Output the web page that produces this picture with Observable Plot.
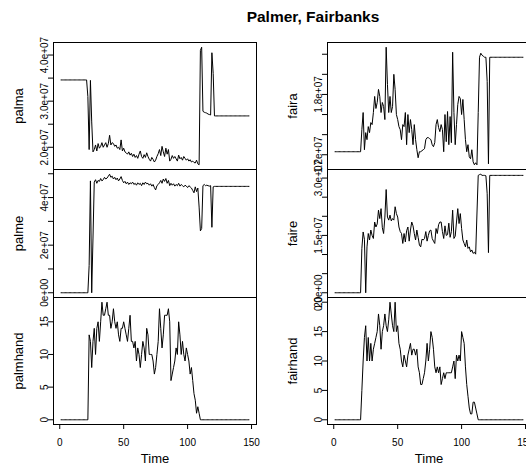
<!DOCTYPE html>
<html>
<head>
<meta charset="utf-8">
<script src="https://cdn.jsdelivr.net/npm/d3@7"></script>
<script src="https://cdn.jsdelivr.net/npm/@observablehq/plot@0.6"></script>
<style>
  html, body { margin: 0; padding: 0; background: #fff; }
  #chart { position: relative; width: 526px; height: 465px; overflow: hidden; background: #fff;
           font-family: "Liberation Sans", Arial, sans-serif; }
  #chart svg { position: absolute; }
  #title { position: absolute; top: 8px; left: 313px; transform: translateX(-50%); white-space: nowrap;
           font-weight: bold; font-size: 15.5px; line-height: 18px; color: #000; }
  g[aria-label="y-axis label"] text, g[aria-label="x-axis label"] text { font-size: 13px; }
</style>
</head>
<body>
<div id="chart"><div id="title">Palmer, Fairbanks</div></div>
<script>
// ---- data (money series in units of 1e7) ----
const title = "Palmer, Fairbanks";
const seriesNames = ["palma", "palme", "palmhand", "faira", "faire", "fairhand"];
const timeStart = 1;
const unitE7 = 1e7;

const palma = [
3.46,3.46,3.46,3.46,3.46,3.46,3.46,3.46,3.46,3.46,3.46,3.46,3.46,3.46,3.46,3.46,3.46,3.46,3.46,3.46,3.46,
3.1,1.95,3.45,2.55,1.9,
1.95,2.05,1.92,2.08,1.98,2.02,2.1,2.0,2.05,2.1,2.0,2.08,
2.26,
2.05,2.1,2.08,2.02,2.05,1.98,2.0,1.95,
2.16,
1.92,1.98,1.9,1.88,1.85,1.9,1.83,1.87,1.8,1.85,1.78,1.82,1.76,1.85,
1.92,1.8,1.76,1.84,1.78,1.88,1.8,1.74,1.7,1.78,1.74,1.68,1.72,1.8,1.86,1.95,1.82,
2.02,1.9,1.8,1.98,1.85,1.95,1.7,1.74,1.82,1.76,1.8,1.75,1.7,
1.83,1.75,1.78,1.72,1.8,1.76,1.72,1.75,1.7,1.73,1.68,1.7,1.67,1.66,1.72,1.64,1.62,
4.1,4.17,2.78,2.76,2.75,2.74,2.72,2.71,2.7,4.05,3.6,2.68,
2.68,2.68,2.68,2.68,2.68,2.68,2.68,2.68,2.68,2.68,2.68,2.68,2.68,2.68,2.68,2.68,2.68,2.68,2.68,2.68,2.68,2.68,2.68,2.68,2.68,2.68,2.68
];

const palme = [
0,0,0,0,0,0,0,0,0,0,0,0,0,0,0,0,0,0,0,0,0,0,
1.15,4.7,0,2.3,
4.65,4.75,4.6,4.72,4.68,4.8,4.7,4.75,4.85,4.78,4.82,4.9,
4.98,
4.85,4.9,4.78,4.85,4.75,4.82,4.7,4.78,4.88,4.72,
4.62,4.68,4.58,4.65,4.55,4.62,4.58,4.65,4.55,4.6,4.52,4.62,4.55,4.6,4.5,4.62,4.55,4.65,4.58,4.6,4.52,4.58,4.48,4.55,4.42,
4.32,4.5,4.55,4.62,4.72,4.6,4.78,4.68,4.8,4.6,4.72,4.5,4.6,4.52,4.58,4.48,4.55,4.5,4.6,4.48,4.55,4.5,4.45,4.52,4.48,4.42,4.5,4.45,4.4,4.3,4.2,4.45,4.25,4.4,
3.6,2.6,2.7,4.5,4.55,4.5,4.52,4.5,4.48,4.5,2.75,4.45,
4.47,4.47,4.47,4.47,4.47,4.47,4.47,4.47,4.47,4.47,4.47,4.47,4.47,4.47,4.47,4.47,4.47,4.47,4.47,4.47,4.47,4.47,4.47,4.47,4.47,4.47,4.47,4.47
];

const palmhand = [
0,0,0,0,0,0,0,0,0,0,0,0,0,0,0,0,0,0,0,0,0,0,
13,12,8,12,14,10,14,15,12,15,18,16,16,17,18,16,16,14,
15,17,15,14,15,13,12,14,14,15,14,13,12,14,16,12,12,11,12,9,
11,10,8,10,12,11,9,14,13,10,10,10,9,7,8,10,12,17,14,11,
13,16,16,16,17,15,6,7,8,9,11,10,15,13,10,12,10,9,11,10,
9,7,8,6,4,3,1,2,1,0,
0,0,0,0,0,0,0,0,0,0,0,0,0,0,0,0,0,0,0,0,0,0,0,0,0,0,0,0,0,0,0,0,0,0,0,0,0,0
];

const faira = [
1.23,1.23,1.23,1.23,1.23,1.23,1.23,1.23,1.23,1.23,1.23,1.23,1.23,1.23,1.23,1.23,1.23,1.23,1.23,1.23,1.23,
1.45,1.62,1.25,1.42,1.35,1.48,1.42,1.52,1.5,1.62,1.78,1.66,1.72,1.85,1.78,1.62,1.72,1.68,1.55,
2.27,1.9,1.62,1.78,1.62,1.68,2.0,1.85,1.6,1.55,1.48,1.45,1.35,1.5,1.48,1.62,1.3,1.6,1.42,1.55,
1.45,1.3,1.5,1.35,1.25,1.17,1.23,1.23,1.24,1.25,1.26,1.35,1.37,1.37,1.36,1.35,1.3,1.28,1.32,1.5,
1.55,1.47,1.43,1.5,1.45,1.23,1.6,1.33,1.63,1.3,1.58,1.32,2.22,1.62,1.3,1.5,1.7,1.78,1.76,1.6,
1.75,1.55,1.35,1.23,1.3,1.18,1.16,1.25,1.13,1.1,1.12,1.1,1.62,2.17,2.21,2.19,2.18,2.17,2.17,1.93,1.11,
2.17,2.17,2.17,2.17,2.17,2.17,2.17,2.17,2.17,2.17,2.17,2.17,2.17,2.17,2.17,2.17,2.17,2.17,2.17,2.17,2.17,2.17,2.17,2.17,2.17,2.17,2.17
];

const faire = [
0,0,0,0,0,0,0,0,0,0,0,0,0,0,0,0,0,0,0,0,0,
1.16,1.59,1.4,0,1.2,1.55,1.38,1.64,1.5,1.42,1.85,1.72,1.8,2.16,1.94,2.2,1.7,1.55,1.98,
2.7,1.98,1.9,2.03,1.88,1.94,1.9,2.25,2.07,1.98,1.72,1.6,1.55,1.29,1.55,1.33,1.62,1.72,1.35,1.64,
1.85,1.75,1.55,1.38,1.64,1.45,1.25,1.2,1.4,1.38,1.42,1.6,1.35,1.5,1.62,1.64,1.42,1.35,1.29,1.68,
1.55,1.78,1.85,1.85,1.6,1.42,1.75,1.5,1.52,1.82,1.45,1.6,2.16,1.42,1.48,1.85,2.2,1.81,2.07,1.68,
1.38,1.29,1.2,1.38,1.16,1.2,1.07,1.12,1.03,1.06,1.01,2.06,3.07,3.09,3.1,3.07,3.07,3.07,3.06,2.59,1.05,
3.07,3.07,3.07,3.07,3.07,3.07,3.07,3.07,3.07,3.07,3.07,3.07,3.07,3.07,3.07,3.07,3.07,3.07,3.07,3.07,3.07,3.07,3.07,3.07,3.07,3.07,3.07
];

const fairhand = [
0,0,0,0,0,0,0,0,0,0,0,0,0,0,0,0,0,0,0,0,0,
5,10,14,16,10,14,10,13,10,12,13,14,15,18,16,12,15,16,18,
16,15,17,20,18,16,15,20,15,16,13,12,10,9,11,10,9,11,12,13,
11,12,12,11,12,9,8,6,6,7,8,10,13,10,12,15,14,12,9,8,
9,8,9,6,7,8,7,8,8,8,8,8,9,10,7,11,10,11,10,15,
14,13,9,6,4,2,1,1,3,3,2,1,0,0,0,0,0,0,0,0,0,
0,0,0,0,0,0,0,0,0,0,0,0,0,0,0,0,0,0,0,0,0,0,0,0,0,0,0
];

// ---- tick values and tick labels ----
const xTicks = [0, 50, 100, 150];
const xTickLabels = ["0", "50", "100", "150"];
const xLabel = "Time";

const palmaTicks = [2.0e7, 2.5e7, 3.0e7, 3.5e7, 4.0e7];
const palmaTickLabels = ["2.0e+07", "", "3.0e+07", "", "4.0e+07"];
const palmeTicks = [0, 1e7, 2e7, 3e7, 4e7, 5e7];
const palmeTickLabels = ["0e+00", "", "2e+07", "", "4e+07", ""];
const palmhandTicks = [0, 5, 10, 15];
const palmhandTickLabels = ["0", "5", "10", "15"];
const fairaTicks = [1.2e7, 1.4e7, 1.6e7, 1.8e7, 2.0e7, 2.2e7];
const fairaTickLabels = ["1.2e+07", "", "", "1.8e+07", "", ""];
const faireTicks = [0, 0.5e7, 1.0e7, 1.5e7, 2.0e7, 2.5e7, 3.0e7];
const faireTickLabels = ["0.0e+00", "", "", "1.5e+07", "", "", "3.0e+07"];
const fairhandTicks = [0, 5, 10, 15, 20];
const fairhandTickLabels = ["0", "5", "10", "15", "20"];

// ---- layout ----
const chart = document.getElementById("chart");
const colLeft = [0, 274];
const rowTop = [42, 169, 297];
const rowFrameH = [127, 128, 127];
const bottomMargin = 41;

const n = palma.length;
const time = Array.from({length: n}, (_, i) => timeStart + i);
const tPad = (time[n - 1] - time[0]) * 0.04;
const xDomain = [time[0] - tPad, time[n - 1] + tPad];

function panel(values, scale, ticks, tickLabels, name, col, row) {
  const data = values.map((v, i) => ({t: time[i], v: v * scale}));
  const lo = d3.min(data, d => d.v), hi = d3.max(data, d => d.v);
  const pad = (hi - lo) * 0.04;
  const fmt = new Map(ticks.map((t, i) => [t, tickLabels[i]]));
  const xfmt = new Map(xTicks.map((t, i) => [t, xTickLabels[i]]));
  const bottom = row === 2;
  const marks = [
    Plot.frame({stroke: "black", strokeWidth: 1}),
    Plot.axisY({ticks, tickFormat: d => fmt.get(d), tickRotate: -90, tickSize: 5, tickPadding: 1,
                label: name, labelAnchor: "center", labelOffset: 40, labelArrow: "none"}),
    Plot.lineY(data, {x: "t", y: "v", stroke: "black", strokeWidth: 1})
  ];
  if (bottom) {
    marks.push(Plot.axisX({ticks: xTicks, tickFormat: d => xfmt.get(d), tickSize: 5, tickPadding: 9,
                           label: xLabel, labelAnchor: "center", labelOffset: 38, labelArrow: "none"}));
  }
  const svg = Plot.plot({
    width: 263,
    height: rowFrameH[row] + (bottom ? bottomMargin : 0),
    marginLeft: 53, marginRight: 7, marginTop: 0, marginBottom: bottom ? bottomMargin : 0,
    x: bottom ? {domain: xDomain} : {domain: xDomain, axis: null},
    y: {domain: [lo - pad, hi + pad]},
    style: {background: "transparent", overflow: "visible", color: "black",
            fontFamily: "'Liberation Sans', Arial, sans-serif", fontSize: "10px"},
    marks
  });
  svg.style.left = colLeft[col] + "px";
  svg.style.top = rowTop[row] + "px";
  chart.appendChild(svg);
}

panel(palma, unitE7, palmaTicks, palmaTickLabels, seriesNames[0], 0, 0);
panel(palme, unitE7, palmeTicks, palmeTickLabels, seriesNames[1], 0, 1);
panel(palmhand, 1, palmhandTicks, palmhandTickLabels, seriesNames[2], 0, 2);
panel(faira, unitE7, fairaTicks, fairaTickLabels, seriesNames[3], 1, 0);
panel(faire, unitE7, faireTicks, faireTickLabels, seriesNames[4], 1, 1);
panel(fairhand, 1, fairhandTicks, fairhandTickLabels, seriesNames[5], 1, 2);
document.getElementById("title").textContent = title;
</script>
</body>
</html>
